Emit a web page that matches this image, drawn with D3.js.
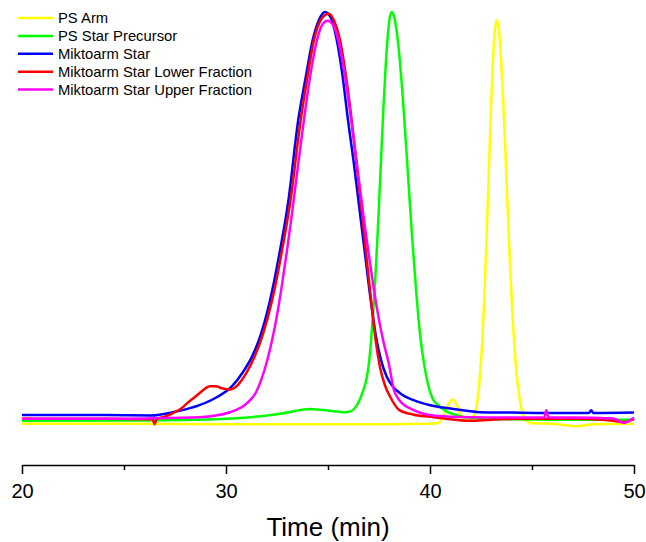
<!DOCTYPE html>
<html>
<head>
<meta charset="utf-8">
<script src="https://cdn.jsdelivr.net/npm/d3@7"></script>
<style>
  html, body { margin: 0; padding: 0; background: #fff; }
  svg { display: block; }
  text { font-family: Arial, "Liberation Sans", sans-serif; fill: #000; }
</style>
</head>
<body>
<svg id="chart" width="646" height="542"></svg>
<script>
// ---- data (time in min, detector response in arbitrary units) ----
const seriesNames = ["PS Arm", "PS Star Precursor", "Miktoarm Star", "Miktoarm Star Lower Fraction", "Miktoarm Star Upper Fraction"];
const seriesColors = ["#ffff00", "#00ff00", "#0000ff", "#ff0000", "#ff00ff"];

const psArmTime = [20, 25, 30, 35, 38, 40, 40.4, 40.7, 40.9, 41.1, 41.3, 41.5, 41.7, 41.9, 42.1, 42.27, 42.37, 42.47, 42.57, 42.67, 42.77, 42.87, 42.97, 43.07, 43.17, 43.27, 43.37, 43.47, 43.57, 43.67, 43.77, 43.87, 43.97, 44.07, 44.17, 44.27, 44.47, 44.67, 45, 46, 47.2, 48, 50];
const psArmValue = [0.3, 0.3, 0.2, 0.2, 0.2, 0.3, 0.5, 2.5, 5, 6.2, 5, 2.5, 1.2, 1.0, 2.0, 4.3, 7.8, 13.3, 21.2, 31.8, 44.9, 59.4, 74, 86.5, 95, 98, 95.9, 89.9, 80.6, 69.3, 56.9, 44.9, 33.8, 24.4, 16.8, 11.1, 4.3, 1.4, 0.4, 0.3, -0.3, 0.2, 0.3];

const precursorTime = [20, 25, 28, 30, 31.2, 32.5, 33.2, 33.6, 34.1, 34.6, 35.2, 35.8, 36.1, 36.3, 36.5, 36.7, 36.92, 37.02, 37.12, 37.22, 37.32, 37.42, 37.52, 37.62, 37.72, 37.82, 37.92, 38.02, 38.12, 38.22, 38.32, 38.42, 38.52, 38.62, 38.72, 38.82, 38.92, 39.02, 39.12, 39.32, 39.52, 39.72, 39.92, 40.12, 40.4, 40.8, 41.3, 42, 44, 46, 48, 50];
const precursorValue = [1.0, 1.1, 1.2, 1.5, 1.9, 2.6, 3.2, 3.6, 3.9, 3.7, 3.4, 3.1, 3.3, 4.0, 5.5, 8, 12, 15.5, 21, 27.5, 35.5, 45, 55.5, 66.5, 77, 86.3, 93.6, 98.4, 100, 99.2, 96.9, 93.2, 88.3, 82.3, 75.5, 68.2, 60.7, 53.1, 45.8, 32.5, 21.6, 14.5, 9.5, 6.5, 4.8, 3.3, 2.4, 1.7, 1.4, 1.3, 1.3, 1.3];

const starTime = [20, 24, 26.3, 27.5, 28.7, 29.5, 30.3, 30.8, 31.3, 31.7, 32.15, 32.6, 33.05, 33.54, 33.9, 34.25, 34.55, 34.85, 35.15, 35.43, 35.7, 35.98, 36.25, 36.5, 36.8, 37.1, 37.35, 37.6, 37.88, 38.2, 38.53, 39.2, 40, 41, 42.45, 44, 45.7, 47.8, 47.9, 48.0, 50];
const starValue = [2.4, 2.4, 2.3, 3.2, 4.8, 6.6, 9.4, 12.6, 16.8, 21.8, 30, 41, 54, 73.8, 84, 93.2, 98, 100, 98.5, 93.2, 85, 73.8, 64, 54, 42, 30, 21.5, 15.7, 11.7, 9.2, 7.7, 6, 4.8, 4, 3.1, 3.0, 2.9, 2.9, 3.6, 2.9, 3.0];

const lowerTime = [20, 24, 26.4, 26.5, 26.6, 27.0, 27.4, 27.8, 28.1, 28.4, 28.7, 29.0, 29.2, 29.5, 29.8, 30.2, 30.6, 31.0, 31.4, 31.8, 32.25, 32.7, 33.15, 33.66, 34.0, 34.31, 34.7, 35.05, 35.33, 35.59, 35.88, 36.16, 36.4, 36.65, 36.9, 37.15, 37.35, 37.55, 37.8, 38.04, 38.5, 39.2, 40, 41, 42, 43, 45, 47, 48.5, 49.5, 50];
const lowerValue = [1.5, 1.5, 1.4, 0.2, 1.4, 2.0, 2.9, 4.0, 5.3, 6.5, 7.7, 8.9, 9.4, 9.4, 8.9, 8.6, 9.8, 12.6, 16.5, 21.8, 30, 41, 54, 73.8, 84.5, 93.2, 98.5, 99.6, 97.5, 93.2, 84.5, 73.8, 63, 52, 40, 28.5, 20, 14, 9.5, 6.9, 3.6, 2.5, 2.0, 1.4, 1.0, 1.3, 1.5, 1.5, 1.3, 0.7, 1.5];

const upperTime = [20, 24, 26, 28.7, 30.2, 31.03, 31.48, 31.73, 31.98, 32.23, 32.48, 32.73, 32.98, 33.23, 33.48, 33.73, 33.98, 34.23, 34.48, 34.73, 34.98, 35.23, 35.48, 35.73, 35.98, 36.23, 36.48, 36.73, 36.98, 37.23, 37.48, 37.73, 37.98, 38.23, 38.5, 39.2, 40, 41, 43, 45.6, 45.7, 45.8, 47, 49, 49.5, 50];
const upperValue = [1.5, 1.5, 1.6, 1.9, 3.1, 5.3, 8, 11, 14.9, 19.9, 26, 33.5, 41.9, 51, 60.8, 70.5, 79.6, 87.5, 93.6, 97, 97.9, 97, 93.6, 87.5, 79.6, 70.5, 60.8, 51, 41.9, 33.5, 26, 19.9, 14.9, 8.5, 6, 3.6, 2.4, 2.0, 1.8, 1.8, 3.6, 1.8, 1.8, 1.6, 0.5, 1.8];

const seriesTimes = [psArmTime, precursorTime, starTime, lowerTime, upperTime];
const seriesValues = [psArmValue, precursorValue, starValue, lowerValue, upperValue];

const majorTicks = [20, 30, 40, 50];
const minorTicks = [25, 35, 45];
const xTitle = "Time (min)";

// ---- drawing ----
const svg = d3.select("#chart");
svg.append("rect").attr("width", 646).attr("height", 542).attr("fill", "#fff");

const x = d3.scaleLinear().domain([20, 50]).range([22, 634]);
const y = d3.scaleLinear().domain([0, 100]).range([425, 12]);

const line = d3.line()
  .x(d => x(d[0]))
  .y(d => y(d[1]))
  .curve(d3.curveMonotoneX);

const curves = svg.append("g");
seriesNames.forEach((name, i) => {
  const pts = seriesTimes[i].map((t, k) => [t, seriesValues[i][k]]);
  curves.append("path")
    .datum(pts)
    .attr("fill", "none")
    .attr("stroke", seriesColors[i])
    .attr("stroke-width", 2.5)
    .attr("stroke-linejoin", "round")
    .attr("d", line);
});

// x axis
const axisY = 465;
const gx = svg.append("g").attr("transform", `translate(0,${axisY})`)
  .call(d3.axisBottom(x).tickValues(majorTicks).tickSize(9).tickSizeOuter(0).tickFormat(d3.format("d")));
gx.select(".domain").attr("stroke", "#000").attr("stroke-width", 1.5);
gx.selectAll(".tick line").attr("stroke", "#000").attr("stroke-width", 1.5);
gx.selectAll(".tick text")
  .attr("y", 33).attr("dy", 0)
  .style("font-family", "Arial, 'Liberation Sans', sans-serif")
  .style("font-size", "20px").attr("fill", "#000");

const gm = svg.append("g").attr("transform", `translate(0,${axisY})`)
  .call(d3.axisBottom(x).tickValues(minorTicks).tickSize(5).tickSizeOuter(0).tickFormat(""));
gm.select(".domain").remove();
gm.selectAll(".tick line").attr("stroke", "#000").attr("stroke-width", 1.5);

svg.append("text")
  .attr("x", (x(20) + x(50)) / 2)
  .attr("y", 536)
  .attr("text-anchor", "middle")
  .style("font-size", "26px")
  .text(xTitle);

// legend
const legend = svg.append("g");
seriesNames.forEach((name, i) => {
  const ly = 18 + i * 17.9;
  legend.append("line")
    .attr("x1", 18).attr("x2", 53).attr("y1", ly).attr("y2", ly)
    .attr("stroke", seriesColors[i]).attr("stroke-width", 2.5);
  legend.append("text")
    .attr("x", 58).attr("y", ly + 5)
    .style("font-size", "14.8px")
    .text(name);
});
</script>
</body>
</html>
